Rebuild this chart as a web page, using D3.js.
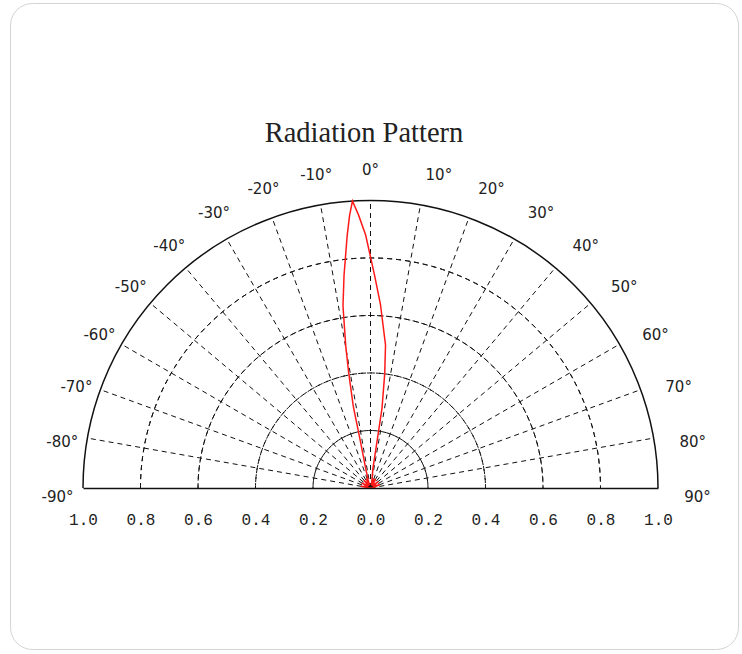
<!DOCTYPE html>
<html>
<head>
<meta charset="utf-8">
<script src="https://cdn.jsdelivr.net/npm/d3@7"></script>
<style>
  html, body { margin: 0; padding: 0; background: #fff; }
  svg { display: block; }
</style>
</head>
<body>
<svg id="chart" width="742" height="654"></svg>
<script>
// ---- data ----
const title = "Radiation Pattern";
const angleTicks = [-90, -80, -70, -60, -50, -40, -30, -20, -10, 0, 10, 20, 30, 40, 50, 60, 70, 80, 90];
const radiusTicks = [0.2, 0.4, 0.6, 0.8];
const axisTickValues = [-1.0, -0.8, -0.6, -0.4, -0.2, 0.0, 0.2, 0.4, 0.6, 0.8, 1.0];
const axisTickLabels = ["1.0", "0.8", "0.6", "0.4", "0.2", "0.0", "0.2", "0.4", "0.6", "0.8", "1.0"];
// relative intensity vs angle (degrees)
const patternAngles = [-90, -80, -70, -60, -50, -40, -30, -25, -20, -16, -14, -12.2, -11.9, -10.7, -9.9, -8.6, -7.1, -5.3, -4.4, -3.6, -2.5, -1.1, 1.1, 3.1, 6.0, 7.1, 8.2, 8.0, 7.0, 10, 15, 20, 25, 30, 40, 50, 60, 70, 80, 90];
const patternValues = [0.0, 0.035, 0.01, 0.035, 0.01, 0.035, 0.01, 0.035, 0.01, 0.03, 0.065, 0.17, 0.29, 0.41, 0.50, 0.64, 0.745, 0.88, 0.95, 1.0, 0.95, 0.88, 0.74, 0.64, 0.50, 0.40, 0.28, 0.17, 0.065, 0.03, 0.01, 0.035, 0.01, 0.035, 0.01, 0.035, 0.01, 0.035, 0.01, 0.0];

// ---- layout ----
const svg = d3.select("#chart");
const cx = 370.5, cy = 488, R = 287.5;

svg.append("rect")
  .attr("x", 10.5).attr("y", 3.5).attr("width", 728).attr("height", 646)
  .attr("rx", 22).attr("ry", 22)
  .attr("fill", "#fff").attr("stroke", "#d4d4d4").attr("stroke-width", 1);

svg.append("text")
  .attr("x", 364).attr("y", 142)
  .attr("text-anchor", "middle")
  .attr("font-family", "'Liberation Serif', 'Times New Roman', serif")
  .attr("font-size", 28.5)
  .attr("fill", "#222")
  .text(title);

const rScale = d3.scaleLinear().domain([0, 1]).range([0, R]);
const aScale = d3.scaleLinear().domain([-90, 90]).range([-Math.PI / 2, Math.PI / 2]);

const g = svg.append("g").attr("transform", `translate(${cx},${cy})`);

// dashed concentric circles
const arc = d3.arc().startAngle(aScale(-90)).endAngle(aScale(90));
g.selectAll("path.ring").data(radiusTicks).join("path")
  .attr("class", "ring")
  .attr("d", d => arc({ innerRadius: rScale(d), outerRadius: rScale(d) }))
  .attr("fill", "none").attr("stroke", "#111").attr("stroke-width", 1)
  .attr("stroke-dasharray", "5,4");

// dashed radial lines
g.selectAll("line.spoke").data(angleTicks.filter(a => Math.abs(a) < 90)).join("line")
  .attr("class", "spoke")
  .attr("x1", 0).attr("y1", 0)
  .attr("x2", d => d3.pointRadial(aScale(d), rScale(1))[0])
  .attr("y2", d => d3.pointRadial(aScale(d), rScale(1))[1])
  .attr("stroke", "#111").attr("stroke-width", 1)
  .attr("stroke-dasharray", "5,4");

// outer solid arc
g.append("path")
  .attr("d", arc({ innerRadius: rScale(1), outerRadius: rScale(1) }))
  .attr("fill", "none").attr("stroke", "#111").attr("stroke-width", 1.5);

// pattern
const line = d3.lineRadial()
  .angle((d, i) => aScale(patternAngles[i]))
  .radius((d, i) => rScale(patternValues[i]))
  .curve(d3.curveLinear);
g.append("path")
  .datum(patternValues)
  .attr("d", line)
  .attr("fill", "none").attr("stroke", "#ff1a1a").attr("stroke-width", 1.5);

// angle labels
g.selectAll("text.alab").data(angleTicks).join("text")
  .attr("class", "alab")
  .attr("x", d => d3.pointRadial(aScale(d), 313)[0] + (d > 0 ? 14 : 0))
  .attr("y", d => d3.pointRadial(aScale(d), 313)[1] - 5 + 14 * Math.pow(Math.sin(aScale(d)), 4))
  .attr("dy", "0.36em")
  .attr("text-anchor", "middle")
  .attr("font-family", "'DejaVu Sans', Verdana, sans-serif")
  .attr("font-size", 15)
  .attr("fill", "#222")
  .text(d => d + "°");

// bottom axis (baseline + value labels)
const xScale = d3.scaleLinear().domain([-1, 1]).range([cx - R, cx + R]);
const axis = d3.axisBottom(xScale)
  .tickValues(axisTickValues)
  .tickFormat((d, i) => axisTickLabels[i])
  .tickSize(0).tickSizeOuter(0).tickPadding(26);
const ax = svg.append("g").attr("transform", `translate(0,${cy})`).call(axis);
ax.select(".domain").attr("stroke", "#111").attr("stroke-width", 1.5);
ax.selectAll("text")
  .attr("font-family", "'Liberation Mono', 'Courier New', monospace")
  .attr("font-size", 16)
  .attr("fill", "#222");
</script>
</body>
</html>
